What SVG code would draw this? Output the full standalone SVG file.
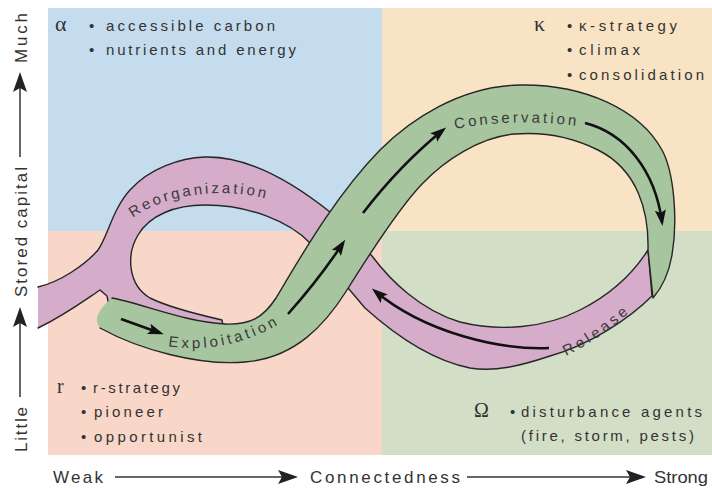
<svg xmlns="http://www.w3.org/2000/svg" width="712" height="489" viewBox="0 0 712 489">
  <style>
    .lbl{font-family:"Liberation Sans",Arial,Helvetica,sans-serif;fill:#333}
    .greek{font-family:"Liberation Serif","DejaVu Serif",serif;fill:#333}
    .edge{fill:none;stroke:#262626;stroke-width:1.4;stroke-linejoin:round;stroke-linecap:round}
    .flow{fill:none;stroke:#111;stroke-width:2.6;marker-end:url(#head)}
    .axis{fill:none;stroke:#333;stroke-width:1.5;marker-end:url(#axhead)}
    .band-lbl{font-family:"Liberation Sans",Arial,sans-serif;font-size:15px;fill:#3a3a3a}
  </style>
  <defs>
    <marker id="head" markerUnits="userSpaceOnUse" markerWidth="16" markerHeight="11" refX="12" refY="5.5" orient="auto" viewBox="0 0 16 11">
      <path d="M0,0 L16,5.5 L0,11 L3,5.5 z" fill="#111"/>
    </marker>
    <marker id="axhead" markerUnits="userSpaceOnUse" markerWidth="20" markerHeight="14" refX="17" refY="7" orient="auto" viewBox="0 0 20 14">
      <path d="M0,0 L20,7 L0,14 L4,7 z" fill="#222"/>
    </marker>
    <!-- baselines for the phase names that follow the loop -->
    <path id="p-reorg" d="M 133 218 C 165 193 235 183 288 206"/>
    <path id="p-explo" d="M 168 346 C 205 352 245 345 283 322"/>
    <path id="p-conserv" d="M 455 129 Q 518 117 585 127"/>
    <path id="p-release" d="M 566 356 Q 602 338 632 310"/>
  </defs>

  <!-- four phase quadrants -->
  <g id="quadrants">
    <rect x="48" y="8" width="334" height="223" fill="#c4dced"/>
    <rect x="382" y="8" width="330" height="223" fill="#f9e3c5"/>
    <rect x="48" y="231" width="334" height="224" fill="#f8d6c8"/>
    <rect x="382" y="231" width="330" height="224" fill="#d3dec7"/>
  </g>

  <!-- the figure-eight loop -->
  <g id="connectors">
    <!-- release / reorganization band (pink) -->
    <g id="band-back">
      <path fill="#d5acca" d="M 38 287 C 60 282 85 265 98 250 C 108 236 112 210 130 190 C 150 168 180 158 205 157 C 245 156 290 180 330 212 L 372 256 C 390 280 420 310 460 322 C 500 332 545 328 580 310 C 610 295 632 275 648 250 L 652 296 C 630 318 590 345 550 356 C 520 366 495 372 470 368 C 430 360 395 335 365 308 L 310 243 C 290 222 250 205 205 205 C 175 205 150 215 138 235 C 126 255 128 285 150 298 C 170 308 200 315 222 320 L 226 342 L 112 320 L 107 296 L 100 290 C 85 300 65 315 38 328 Z"/>
      <path class="edge" d="M 38 287 C 60 282 85 265 98 250 C 108 236 112 210 130 190 C 150 168 180 158 205 157 C 245 156 290 180 330 212 L 372 256 C 390 280 420 310 460 322 C 500 332 545 328 580 310 C 610 295 632 275 648 250 L 652 296 C 630 318 590 345 550 356 C 520 366 495 372 470 368 C 430 360 395 335 365 308 L 310 243 C 290 222 250 205 205 205 C 175 205 150 215 138 235 C 126 255 128 285 150 298 C 170 308 200 315 222 320 L 226 342 L 112 320 L 107 296 L 100 290 C 85 300 65 315 38 328"/>
    </g>
    <!-- exploitation / conservation band (green) -->
    <g id="band-front">
      <path fill="#a7c59f" d="M 112 298 C 140 303 185 322 225 324 C 250 325 263 318 276 298 C 300 258 335 196 380 150 C 410 120 460 86 520 85 C 585 84 640 110 662 150 C 674 172 678 220 672 255 C 668 278 660 290 653 298 L 648 250 C 649 212 638 170 598 150 C 570 136 540 132 515 134 C 480 137 445 160 422 184 C 400 207 372 250 347 290 C 325 325 295 358 245 362 C 200 366 140 350 100 328 Q 90 316 112 298 Z"/>
      <path class="edge" d="M 112 298 C 140 303 185 322 225 324 C 250 325 263 318 276 298 C 300 258 335 196 380 150 C 410 120 460 86 520 85 C 585 84 640 110 662 150 C 674 172 678 220 672 255 C 668 278 660 290 653 298 L 648 250 C 649 212 638 170 598 150 C 570 136 540 132 515 134 C 480 137 445 160 422 184 C 400 207 372 250 347 290 C 325 325 295 358 245 362 C 200 366 140 350 100 328"/>
    </g>
    <!-- direction of flow -->
    <g id="flows">
      <path class="flow" d="M 121 319 L 160 333"/>
      <path class="flow" d="M 288 314 Q 320 278 343 243"/>
      <path class="flow" d="M 363 213 Q 400 165 443 130"/>
      <path class="flow" d="M 585 123 C 625 133 655 170 662 222"/>
      <path class="flow" d="M 549 348 C 500 350 425 333 375 291"/>
    </g>
  </g>

  <!-- phase names -->
  <g id="phase-names">
    <text class="band-lbl" letter-spacing="2.8"><textPath href="#p-reorg">Reorganization</textPath></text>
    <text class="band-lbl" letter-spacing="3.3"><textPath href="#p-explo">Exploitation</textPath></text>
    <text class="band-lbl" letter-spacing="3"><textPath href="#p-conserv">Conservation</textPath></text>
    <text class="band-lbl" letter-spacing="3.5"><textPath href="#p-release">Release</textPath></text>
  </g>

  <!-- quadrant notes -->
  <g id="alpha" font-size="15">
    <text class="greek" x="55" y="31" font-size="22">α</text>
    <text class="lbl" x="89" y="31">•</text>
    <text class="lbl" x="106" y="31" textLength="169" lengthAdjust="spacing">accessible carbon</text>
    <text class="lbl" x="89" y="55">•</text>
    <text class="lbl" x="106" y="55" textLength="190" lengthAdjust="spacing">nutrients and energy</text>
  </g>
  <g id="kappa" font-size="15">
    <text class="greek" x="534" y="31" font-size="22">κ</text>
    <text class="lbl" x="567" y="31">•</text>
    <text class="lbl" x="579" y="31" textLength="98" lengthAdjust="spacing">κ-strategy</text>
    <text class="lbl" x="567" y="55">•</text>
    <text class="lbl" x="579" y="55" textLength="61" lengthAdjust="spacing">climax</text>
    <text class="lbl" x="567" y="80">•</text>
    <text class="lbl" x="579" y="80" textLength="125" lengthAdjust="spacing">consolidation</text>
  </g>
  <g id="r" font-size="15">
    <text class="greek" x="57" y="393" font-size="20">r</text>
    <text class="lbl" x="81" y="393">•</text>
    <text class="lbl" x="93" y="393" textLength="87" lengthAdjust="spacing">r-strategy</text>
    <text class="lbl" x="81" y="417">•</text>
    <text class="lbl" x="94" y="417" textLength="69" lengthAdjust="spacing">pioneer</text>
    <text class="lbl" x="81" y="442">•</text>
    <text class="lbl" x="94" y="442" textLength="108" lengthAdjust="spacing">opportunist</text>
  </g>
  <g id="omega" font-size="15">
    <text class="greek" x="474" y="417" font-size="20">Ω</text>
    <text class="lbl" x="510" y="417">•</text>
    <text class="lbl" x="521" y="417" textLength="181" lengthAdjust="spacing">disturbance agents</text>
    <text class="lbl" x="521" y="441" textLength="173" lengthAdjust="spacing">(fire, storm, pests)</text>
  </g>

  <!-- axes -->
  <g id="x-axis" font-size="17">
    <text class="lbl" x="53" y="483" textLength="50" lengthAdjust="spacing">Weak</text>
    <path class="axis" d="M 115 477 L 295 477"/>
    <text class="lbl" x="310" y="483" textLength="150" lengthAdjust="spacing">Connectedness</text>
    <path class="axis" d="M 467 477 L 643 477"/>
    <text class="lbl" x="654" y="483" textLength="54" lengthAdjust="spacingAndGlyphs">Strong</text>
  </g>
  <g id="y-axis" font-size="17">
    <text class="lbl" transform="translate(27,452) rotate(-90)" textLength="45" lengthAdjust="spacing">Little</text>
    <path class="axis" d="M 20 397 L 20 310"/>
    <text class="lbl" transform="translate(27,297) rotate(-90)" textLength="130" lengthAdjust="spacing">Stored capital</text>
    <path class="axis" d="M 20 157 L 20 75"/>
    <text class="lbl" transform="translate(27,63) rotate(-90)" textLength="50" lengthAdjust="spacing">Much</text>
  </g>
</svg>
